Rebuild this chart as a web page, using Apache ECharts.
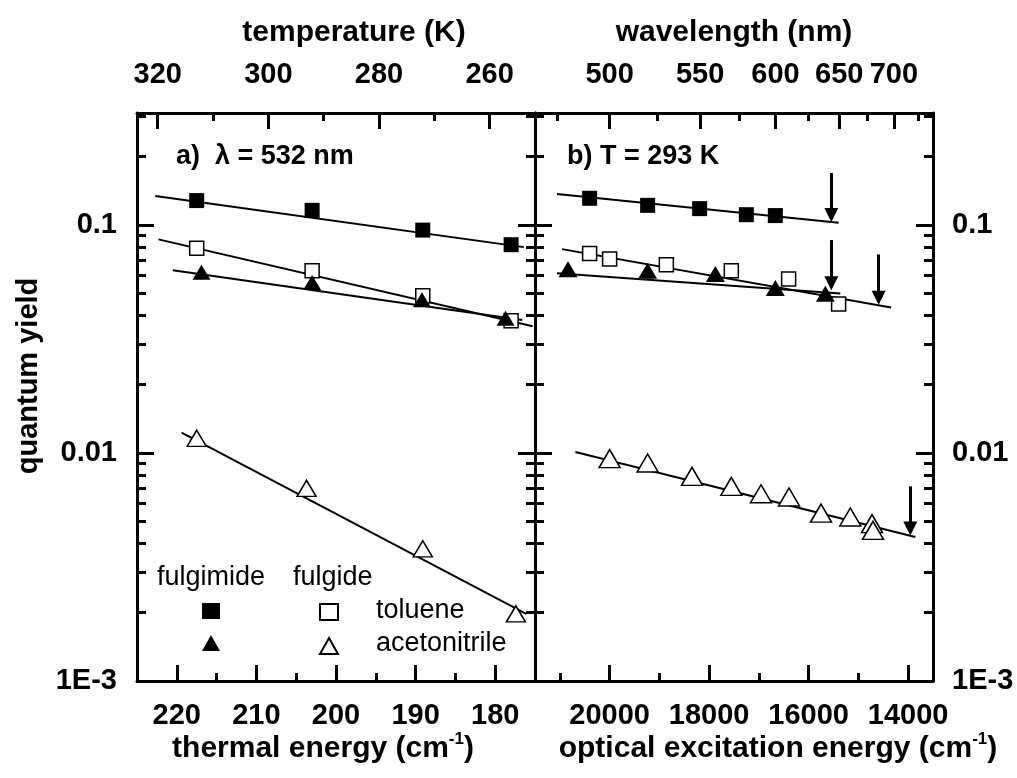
<!DOCTYPE html>
<html>
<head>
<meta charset="utf-8">
<script src="https://cdn.jsdelivr.net/npm/echarts@6/dist/echarts.min.js"></script>
<style>
html,body{margin:0;padding:0;background:#fff;}
#chart{width:1017px;height:778px;}
</style>
</head>
<body>
<div id="chart"></div>
<script>
// ---------- data ----------
// panel a: thermal energy (cm^-1) vs quantum yield
const aFimTolX = [217.5, 203.0, 189.1, 178.0];
const aFimTolY = [0.128, 0.116, 0.095, 0.082];
const aFidTolX = [217.5, 203.0, 189.1, 178.0];
const aFidTolY = [0.079, 0.063, 0.049, 0.038];
const aFimAceX = [216.9, 203.0, 189.2, 178.7];
const aFimAceY = [0.062, 0.056, 0.047, 0.039];
const aFidAceX = [217.5, 203.7, 189.1, 177.4];
const aFidAceY = [0.0116, 0.0070, 0.0038, 0.00197];
// panel a fit lines [x, y]
const aFitFimTol = [[222.7, 0.134], [176.4, 0.080]];
const aFitFidTol = [[222.3, 0.0865], [175.3, 0.036]];
const aFitFimAce = [[220.5, 0.0634], [176.6, 0.0383]];
const aFitFidAce = [[219.4, 0.0123], [176.1, 0.00197]];

// panel b: optical excitation energy (cm^-1) vs quantum yield
const bFimTolX = [20402, 19236, 18191, 17252, 16669];
const bFimTolY = [0.131, 0.122, 0.118, 0.111, 0.110];
const bFidTolX = [20402, 20000, 18860, 17554, 16402, 15397];
const bFidTolY = [0.075, 0.071, 0.067, 0.063, 0.058, 0.045];
const bFimAceX = [20836, 19236, 17875, 16669, 15664];
const bFimAceY = [0.064, 0.063, 0.061, 0.053, 0.050];
const bFidAceX = [20000, 19236, 18344, 17554, 16957, 16394, 15751, 15162, 14726, 14706];
const bFidAceY = [0.00945, 0.00904, 0.0079, 0.00714, 0.00663, 0.00641, 0.00545, 0.00524, 0.0049, 0.00458];
// panel b fit lines
const bFitFimTol = [[21057, 0.1368], [15397, 0.1023]];
const bFitFidTol = [[20957, 0.0784], [14344, 0.0435]];
const bFitFimAce = [[21057, 0.0614], [15363, 0.0501]];
const bFitFidAce = [[20689, 0.0101], [13855, 0.00428]];
// arrows in panel b: x, top of shaft, centre of arrow head
const bArrowX   = [15544, 15544, 14593, 13956];
const bArrowTop = [0.169, 0.0859, 0.0743, 0.00714];
const bArrowHead = [0.1106, 0.0556, 0.0480, 0.00467];

// ---------- axes / ticks ----------
const aRange = [175, 225];
const aMajor = [180, 190, 200, 210, 220];
const aMinor = [185, 195, 205, 215];
const KB = 0.695; // cm^-1 per K
const tempMajor = [320, 300, 280, 260];
const tempMinor = [310, 290, 270];
const bRange = [13500, 21500];
const bMajor = [14000, 16000, 18000, 20000];
const bMinor = [15000, 17000, 19000, 21000];
const wlMajor = [500, 550, 600, 650, 700];
const wlMinor = [475, 525, 575, 625, 675, 725];
const yRange = [0.001, 0.31];
const yMajor = [0.001, 0.01, 0.1];
const yMajorLabels = ['1E-3', '0.01', '0.1'];
const yMinor = [0.002,0.003,0.004,0.005,0.006,0.007,0.008,0.009,
                0.02,0.03,0.04,0.05,0.06,0.07,0.08,0.09,0.2,0.3];

const FONT = '"Liberation Sans", Arial, Helvetica, sans-serif';
const LABEL_SIZE = 29;
const zip = (xs, ys) => xs.map((x, i) => [x, ys[i]]);

function axis(o) {
  const a = {
    type: o.type || 'value',
    gridIndex: o.grid,
    position: o.pos,
    min: o.min, max: o.max,
    inverse: !!o.inverse,
    axisLine: {show: !!o.line, onZero: false, lineStyle: {color: '#000', width: 3}},
    axisTick: {show: true, inside: true, length: o.len, customValues: o.ticks,
               lineStyle: {color: '#000', width: 3}},
    axisLabel: {show: false},
    splitLine: {show: false},
    z: 5
  };
  if (o.type === 'log') a.logBase = 10;
  if (o.labels) {
    a.axisLabel = {show: true, customValues: o.labels, formatter: o.fmt, margin: o.margin,
      fontSize: LABEL_SIZE, fontWeight: 'bold', fontFamily: FONT, color: '#000'};
  }
  return a;
}

const yFmt = v => {
  let best = 0;
  yMajor.forEach((m, i) => { if (Math.abs(Math.log10(v) - Math.log10(m)) < Math.abs(Math.log10(v) - Math.log10(yMajor[best]))) best = i; });
  return yMajorLabels[best];
};

const xAxes = [
  // grid 0
  axis({grid: 0, pos: 'bottom', min: aRange[0], max: aRange[1], inverse: true, line: true, len: 16, ticks: aMajor, labels: aMajor, fmt: v => String(Math.round(v)), margin: 20}),
  axis({grid: 0, pos: 'bottom', min: aRange[0], max: aRange[1], inverse: true, line: false, len: 8, ticks: aMinor}),
  axis({grid: 0, pos: 'top', min: aRange[0], max: aRange[1], inverse: true, line: true, len: 16, ticks: tempMajor.map(t => t * KB), labels: tempMajor.map(t => t * KB), fmt: v => String(Math.round(v / KB)), margin: 24}),
  axis({grid: 0, pos: 'top', min: aRange[0], max: aRange[1], inverse: true, line: false, len: 8, ticks: tempMinor.map(t => t * KB)}),
  // grid 1
  axis({grid: 1, pos: 'bottom', min: bRange[0], max: bRange[1], inverse: true, line: true, len: 16, ticks: bMajor, labels: bMajor, fmt: v => String(Math.round(v)), margin: 20}),
  axis({grid: 1, pos: 'bottom', min: bRange[0], max: bRange[1], inverse: true, line: false, len: 8, ticks: bMinor}),
  axis({grid: 1, pos: 'top', min: bRange[0], max: bRange[1], inverse: true, line: true, len: 16, ticks: wlMajor.map(w => 1e7 / w), labels: wlMajor.map(w => 1e7 / w), fmt: v => String(Math.round(1e7 / v)), margin: 24}),
  axis({grid: 1, pos: 'top', min: bRange[0], max: bRange[1], inverse: true, line: false, len: 8, ticks: wlMinor.map(w => 1e7 / w)})
];
const yAxes = [
  axis({type: 'log', grid: 0, pos: 'left', min: yRange[0], max: yRange[1], line: true, len: 17, ticks: yMajor, labels: yMajor, fmt: yFmt, margin: 20}),
  axis({type: 'log', grid: 0, pos: 'left', min: yRange[0], max: yRange[1], line: false, len: 9, ticks: yMinor}),
  axis({type: 'log', grid: 0, pos: 'right', min: yRange[0], max: yRange[1], line: true, len: 17, ticks: yMajor}),
  axis({type: 'log', grid: 0, pos: 'right', min: yRange[0], max: yRange[1], line: false, len: 9, ticks: yMinor}),
  axis({type: 'log', grid: 1, pos: 'left', min: yRange[0], max: yRange[1], line: true, len: 17, ticks: yMajor}),
  axis({type: 'log', grid: 1, pos: 'left', min: yRange[0], max: yRange[1], line: false, len: 9, ticks: yMinor}),
  axis({type: 'log', grid: 1, pos: 'right', min: yRange[0], max: yRange[1], line: true, len: 17, ticks: yMajor, labels: yMajor, fmt: yFmt, margin: 19}),
  axis({type: 'log', grid: 1, pos: 'right', min: yRange[0], max: yRange[1], line: false, len: 9, ticks: yMinor})
];

// ---------- series ----------
const filled = {color: '#000', opacity: 1};
const open = {color: '#fff', borderColor: '#000', borderWidth: 1.5, opacity: 1};
function scatter(name, xi, yi, data, symbol, size, style) {
  return {type: 'scatter', name, xAxisIndex: xi, yAxisIndex: yi, data, symbol, symbolSize: size,
          itemStyle: style, z: 4, silent: true};
}
function fit(xi, yi, data, extra) {
  return Object.assign({type: 'line', xAxisIndex: xi, yAxisIndex: yi, data, showSymbol: false, symbol: 'none',
          color: '#000', itemStyle: {color: '#000'},
          lineStyle: {color: '#000', width: 2}, z: 3, silent: true, clip: true}, extra || {});
}
const arrowData = bArrowX.map((x, i) => [{coord: [x, bArrowTop[i]]}, {coord: [x, bArrowHead[i]]}]);

const series = [
  fit(0, 0, aFitFimTol), fit(0, 0, aFitFidTol), fit(0, 0, aFitFimAce), fit(0, 0, aFitFidAce),
  scatter('fulgimide toluene', 0, 0, zip(aFimTolX, aFimTolY), 'rect', 15, filled),
  scatter('fulgide toluene', 0, 0, zip(aFidTolX, aFidTolY), 'rect', 14, open),
  scatter('fulgimide acetonitrile', 0, 0, zip(aFimAceX, aFimAceY), 'triangle', [18, 15], filled),
  scatter('fulgide acetonitrile', 0, 0, zip(aFidAceX, aFidAceY), 'triangle', [19, 16], open),
  fit(4, 4, bFitFimTol, {markLine: {silent: true, symbol: ['none', 'triangle'], symbolSize: 14,
      itemStyle: {color: '#000'},
      lineStyle: {color: '#000', width: 3, type: 'solid', opacity: 1}, label: {show: false},
      emphasis: {disabled: true}, data: arrowData, animation: false}}),
  fit(4, 4, bFitFidTol), fit(4, 4, bFitFimAce), fit(4, 4, bFitFidAce),
  scatter('fulgimide toluene', 4, 4, zip(bFimTolX, bFimTolY), 'rect', 15, filled),
  scatter('fulgide toluene', 4, 4, zip(bFidTolX, bFidTolY), 'rect', 14, open),
  scatter('fulgimide acetonitrile', 4, 4, zip(bFimAceX, bFimAceY), 'triangle', [19, 16], filled),
  scatter('fulgide acetonitrile', 4, 4, zip(bFidAceX, bFidAceY), 'triangle', [21, 18], open)
];

// ---------- texts ----------
function txt(text, x, y, size, align, w, extra) {
  return Object.assign({type: 'text', x, y, z: 10, silent: true,
    style: Object.assign({text, fontSize: size, align: align, verticalAlign: 'middle',
      fontFamily: FONT, fontWeight: w, fill: '#000'}, (extra && extra.style) || {})},
    extra && extra.rotation !== undefined ? {rotation: extra.rotation} : {});
}
const supRich = {sup: {fontSize: 17, fontWeight: 'bold', fontFamily: FONT, verticalAlign: 'top', lineHeight: 34}};

const option = {
  backgroundColor: '#fff',
  animation: false,
  grid: [
    {left: 137, top: 113, width: 398, height: 568, outerBoundsMode: 'none', containLabel: false},
    {left: 535, top: 113, width: 398, height: 568, outerBoundsMode: 'none', containLabel: false}
  ],
  xAxis: xAxes,
  yAxis: yAxes,
  legend: [
    {data: ['fulgimide toluene', 'fulgimide acetonitrile'], orient: 'vertical', left: 202, top: 603,
     padding: 0, itemWidth: 18, itemHeight: 16, itemGap: 16, formatter: () => '', selectedMode: false,
     textStyle: {fontSize: 1}},
    {data: ['fulgide toluene', 'fulgide acetonitrile'], orient: 'vertical', left: 319, top: 603,
     padding: 0, itemWidth: 18, itemHeight: 16, itemGap: 16, formatter: () => '', selectedMode: false,
     textStyle: {fontSize: 1}}
  ],
  graphic: [
    txt('fulgimide', 157, 578, 27, 'left', 'normal'),
    txt('fulgide', 293, 578, 27, 'left', 'normal'),
    txt('toluene', 376, 611, 27, 'left', 'normal'),
    txt('acetonitrile', 376, 644, 27, 'left', 'normal'),
    txt('a)  λ = 532 nm', 176, 157, 27, 'left', 'bold'),
    txt('b) T = 293 K', 567, 157, 27, 'left', 'bold'),
    txt('temperature (K)', 354, 33, 30, 'center', 'bold'),
    txt('wavelength (nm)', 734, 33, 30, 'center', 'bold'),
    txt('thermal energy (cm{sup|-1})', 323, 749, 30, 'center', 'bold', {style: {rich: supRich, lineHeight: 36}}),
    txt('optical excitation energy (cm{sup|-1})', 778, 749, 30, 'center', 'bold', {style: {rich: supRich, lineHeight: 36}}),
    txt('quantum yield', 29, 376, 29, 'center', 'bold', {rotation: Math.PI / 2})
  ],
  series
};

const chart = echarts.init(document.getElementById('chart'), null, {renderer: 'canvas'});
chart.setOption(option);
</script>
</body>
</html>
